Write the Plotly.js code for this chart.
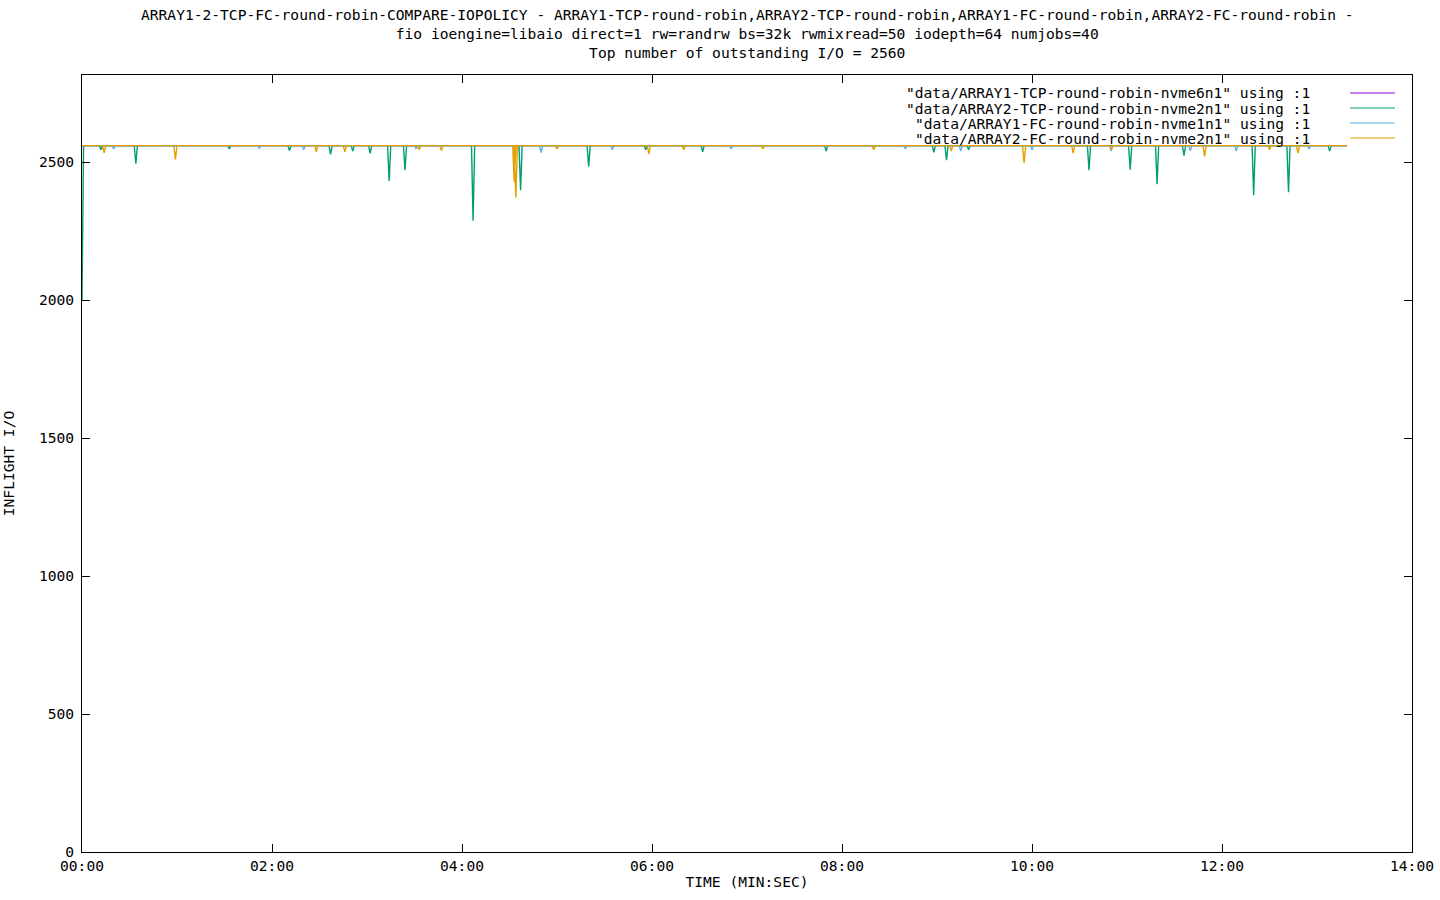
<!DOCTYPE html>
<html>
<head>
<meta charset="utf-8">
<script src="https://cdn.plot.ly/plotly-3.0.1.min.js"></script>
<style>
  html, body { margin: 0; padding: 0; background: #fff; }
  #chart { width: 1440px; height: 900px; }
</style>
</head>
<body>
<div id="chart"></div>
<script>
(function () {
  "use strict";

  /* gnuplot-style fio inflight I/O comparison; time in seconds, values = outstanding I/O */
  const END_T = 799;
  const TOP = 2560;

  // spikes: time (s), value at the bottom of the spike
  const tcp1DipT = [];
  const tcp1DipV = [];
  const tcp2DipT = [12, 34, 93, 131, 157, 171, 182, 194, 204, 247, 277, 320, 356, 392, 470, 538, 546, 560, 636, 662, 679, 696, 740, 762, 788];
  const tcp2DipV = [2545, 2495, 2548, 2542, 2528, 2540, 2532, 2432, 2471, 2288, 2398, 2484, 2545, 2538, 2540, 2536, 2507, 2545, 2471, 2473, 2420, 2524, 2380, 2391, 2540];
  const fc1DipT = [20, 112, 140, 211, 290, 335, 410, 520, 555, 600, 650, 700, 729, 775];
  const fc1DipV = [2548, 2550, 2545, 2548, 2535, 2545, 2548, 2548, 2540, 2545, 2540, 2542, 2540, 2548];
  const fc2DipT = [14, 59, 148, 166, 213, 227, 273, 274, 300, 358, 380, 430, 500, 549, 595, 626, 650, 709, 750, 768];
  const fc2DipV = [2534, 2510, 2538, 2538, 2545, 2542, 2428, 2372, 2548, 2530, 2545, 2548, 2545, 2540, 2497, 2533, 2545, 2521, 2545, 2533];

  const SERIES = [
    { name: '"data/ARRAY1-TCP-round-robin-nvme6n1" using :1', color: "#9400d3", t: tcp1DipT, v: tcp1DipV, start: TOP },
    { name: '"data/ARRAY2-TCP-round-robin-nvme2n1" using :1', color: "#009e73", t: tcp2DipT, v: tcp2DipV, start: 2000 },
    { name: '"data/ARRAY1-FC-round-robin-nvme1n1" using :1',  color: "#56b4e9", t: fc1DipT,  v: fc1DipV,  start: TOP },
    { name: '"data/ARRAY2-FC-round-robin-nvme2n1" using :1',  color: "#e69f00", t: fc2DipT,  v: fc2DipV,  start: TOP },
  ];

  function build(s) {
    const x = [0, 1], y = [s.start, TOP];
    s.t.forEach((t, i) => {
      x.push(t - 1, t, t + 1);
      y.push(TOP, s.v[i], TOP);
    });
    x.push(END_T); y.push(TOP);
    return { x, y };
  }

  const traces = SERIES.map(s => {
    const d = build(s);
    return { type: "scatter", mode: "lines", name: s.name, x: d.x, y: d.y,
      line: { color: s.color, width: 1.4 }, hoverinfo: "x+y" };
  });

  const tickSec = [0, 120, 240, 360, 480, 600, 720, 840];
  const tickTxt = ["00:00", "02:00", "04:00", "06:00", "08:00", "10:00", "12:00", "14:00"];

  const FONT = { family: "DejaVu Sans Mono, Liberation Mono, monospace", size: 14.6, color: "#000" };
  const ax = {
    showline: true, mirror: "ticks", linecolor: "#000", linewidth: 1,
    ticks: "inside", ticklen: 8, tickcolor: "#000", showgrid: false, zeroline: false,
    tickfont: FONT,
  };

  // legend drawn gnuplot-style: right-aligned text with line sample to its right
  const annotations = [{
    xref: "paper", yref: "paper", x: 0.5, y: 1, yanchor: "bottom", yshift: 12, showarrow: false,
    text: "ARRAY1-2-TCP-FC-round-robin-COMPARE-IOPOLICY - ARRAY1-TCP-round-robin,ARRAY2-TCP-round-robin,ARRAY1-FC-round-robin,ARRAY2-FC-round-robin -<br>fio ioengine=libaio direct=1 rw=randrw bs=32k rwmixread=50 iodepth=64 numjobs=40<br>Top number of outstanding I/O = 2560",
    font: FONT,
  }];
  const shapes = [];
  SERIES.forEach((s, i) => {
    const yy = 1 - (18 + 15 * i) / 777;
    annotations.push({ xref: "paper", yref: "paper", x: 0.9248, y: yy, xanchor: "right", yanchor: "middle",
      showarrow: false, text: s.name, font: FONT });
    shapes.push({ type: "line", xref: "paper", yref: "paper", x0: 0.9534, x1: 0.9872, y0: yy, y1: yy,
      line: { color: s.color, width: 1 } });
  });

  Plotly.newPlot("chart", traces, {
    width: 1440, height: 900,
    margin: { l: 82, r: 28, t: 75, b: 48 },
    paper_bgcolor: "#fff", plot_bgcolor: "#fff",
    font: FONT, showlegend: false,
    xaxis: { ...ax, range: [0, 840], tickvals: tickSec, ticktext: tickTxt,
      title: { text: "TIME (MIN:SEC)", font: FONT, standoff: 4 } },
    yaxis: { ...ax, range: [0, 2816], tickvals: [0, 500, 1000, 1500, 2000, 2500], ticklabelstandoff: 4,
      title: { text: "INFLIGHT I/O", font: FONT, standoff: 22 } },
    annotations, shapes,
  }, { displayModeBar: false, staticPlot: true });
})();
</script>
</body>
</html>
